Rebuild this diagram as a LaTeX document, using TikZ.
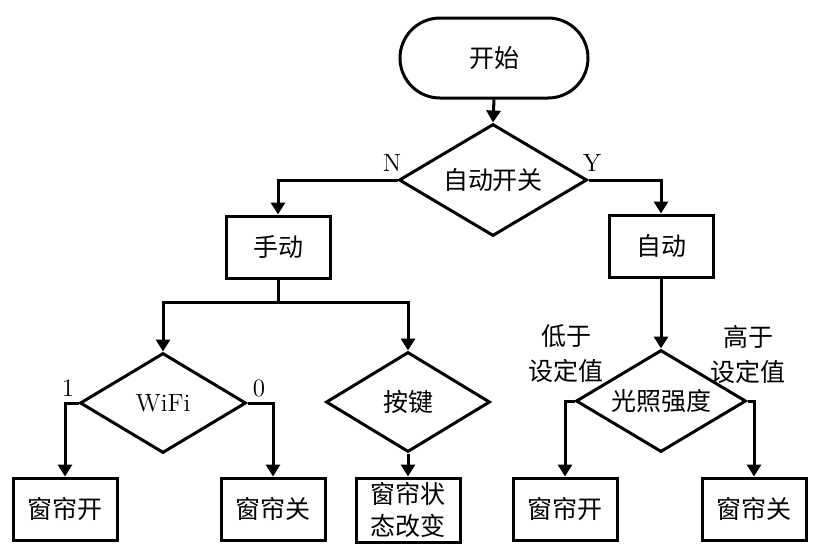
\documentclass[tikz,border=0pt]{standalone}
\usepackage{fontspec}
\newfontfamily\cjk{Noto Sans CJK SC}
\usetikzlibrary{shapes.geometric,arrows.meta}
\begin{document}
\begin{tikzpicture}[x=0.5pt,y=-0.5pt,
  every node/.style={font=\cjk\fontsize{12.5}{16}\selectfont},
  base/.style={draw,line width=1.5pt,inner sep=0pt},
  term/.style={base,minimum width=94pt,minimum height=40pt,rounded corners=20pt},
  box/.style={base,minimum width=52pt,minimum height=31pt,align=center},
  dec/.style={base,diamond,shape aspect=1.7,minimum width=#1,minimum height=55pt},
  lbl/.style={font=\fontsize{12.5}{15}\selectfont},
  clbl/.style={font=\cjk\fontsize{12.5}{17.5}\selectfont,align=center},
  line/.style={line width=1.5pt},
  arr/.style={line width=1.5pt,-{Triangle[width=7pt,length=6pt]}}
]
\useasboundingbox (0,0) rectangle (816,553);
\node[term] (start) at (494,58) {开始};
\node[dec=94pt,minimum height=56pt] (auto) at (493,180) {自动开关};
\node[box] (manual) at (278,247) {手动};
\node[box] (automode) at (661,246) {自动};
\node[dec=83pt,minimum height=50pt] (wifi) at (163,403) {\rmfamily WiFi};
\node[dec=82pt,minimum height=50pt] (key) at (408,402) {按键};
\node[dec=85pt,minimum height=51pt] (light) at (661,401) {光照强度};
\node[box] (w1) at (65,509) {窗帘开};
\node[box] (w0) at (273,509) {窗帘关};
\node[box,minimum height=32pt,inner sep=0pt] (wk) at (408,510) {窗帘状\\态改变};
\node[box] (l0) at (565,509) {窗帘开};
\node[box] (l1) at (754,509) {窗帘关};

\node[lbl] (nl) at (392,163) {N};
\node[lbl] (yl) at (592,163) {Y};
\node[lbl] (one) at (68,388) {1};
\node[lbl] (zero) at (259,388) {0};
\node[clbl] (low) at (566,354) {低于\\设定值};
\node[clbl] (high) at (748,354) {高于\\设定值};

\coordinate (sp) at (278,302);
\draw[arr] (start.south) -- (auto.north);
\draw[arr] (auto.west) -| (manual.north);
\draw[arr] (auto.east) -| (automode.north);
\draw[line] (manual.south) -- (sp);
\draw[arr] (sp) -| (wifi.north);
\draw[arr] (sp) -| (key.north);
\draw[arr] (wifi.west) -| (w1.north);
\draw[arr] (wifi.east) -| (w0.north);
\draw[arr] (key.south) -- (wk.north);
\draw[arr] (automode.south) -- (light.north);
\draw[arr] (light.west) -| (l0.north);
\draw[arr] (light.east) -| (l1.north);
\end{tikzpicture}
\end{document}
